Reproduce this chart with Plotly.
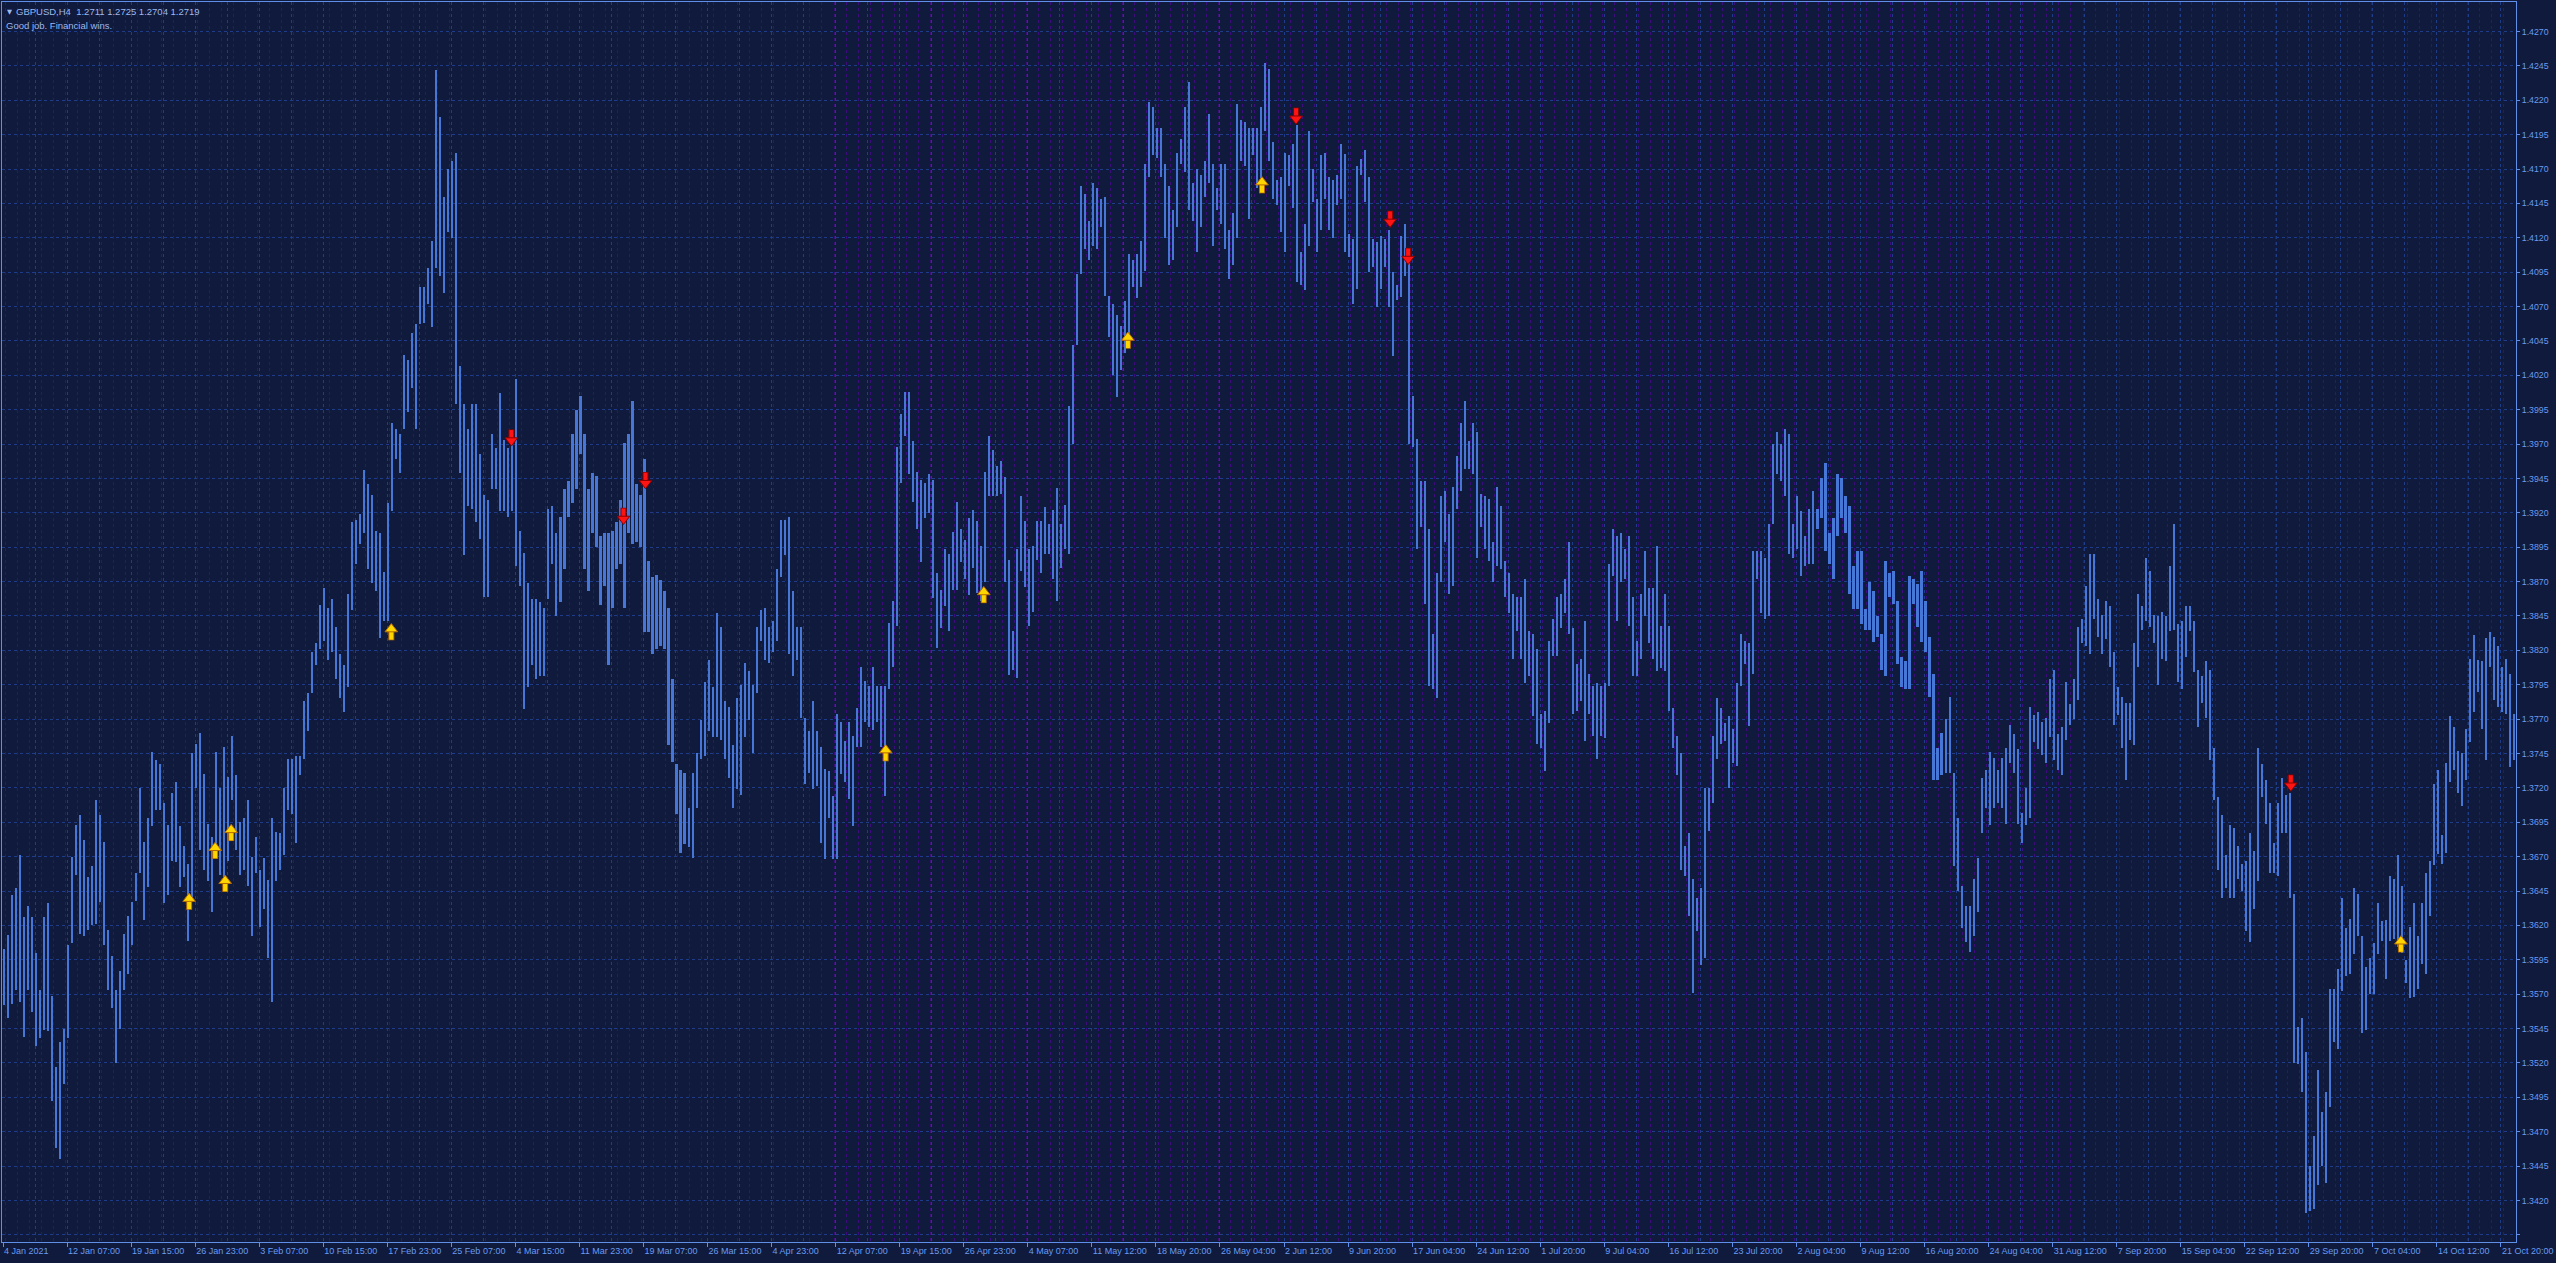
import plotly.graph_objects as go

# ---------------- data ----------------
# GBPUSD H4: high / low of each pair of consecutive H4 bars
BARS_PER_GROUP = 2
pair_high = [
    # 4 Jan - 12 Feb
    1.3603, 1.3613, 1.3642, 1.3647, 1.3671, 1.3626, 1.3634, 1.3626, 1.3600, 1.3573,
    1.3626, 1.3636, 1.3569, 1.3517, 1.3535, 1.3545, 1.3606, 1.3670, 1.3693, 1.3700,
    1.3682, 1.3655, 1.3663, 1.3711, 1.3700, 1.3681, 1.3617, 1.3598, 1.3573, 1.3587,
    1.3614, 1.3627, 1.3637, 1.3658, 1.3720, 1.3681, 1.3698, 1.3746, 1.3740, 1.3737,
    1.3709, 1.3693, 1.3716, 1.3724, 1.3692, 1.3678, 1.3665, 1.3745, 1.3752, 1.3760,
    1.3730, 1.3694, 1.3684, 1.3746, 1.3720, 1.3750, 1.3728, 1.3758, 1.3729, 1.3695,
    1.3698, 1.3711, 1.3670, 1.3684, 1.3660, 1.3669, 1.3653, 1.3698, 1.3688, 1.3687,
    1.3720, 1.3741, 1.3741, 1.3743,
    # Feb - Mar
    1.3743, 1.3783, 1.3789, 1.3819, 1.3825, 1.3853, 1.3865, 1.3851, 1.3857, 1.3837,
    1.3817, 1.3809, 1.3861, 1.3913, 1.3915, 1.3919, 1.3951, 1.3941, 1.3933, 1.3907,
    1.3905, 1.3877, 1.3927, 1.3985, 1.3981, 1.3977, 1.4035, 1.4031, 1.4051, 1.4057,
    1.4084, 1.4084, 1.4098, 1.4118, 1.4242, 1.4208, 1.4150, 1.4170, 1.4176, 1.4182,
    1.4027, 1.3999, 1.3981, 1.3999, 1.3999, 1.3963, 1.3933, 1.3929, 1.3977, 1.3967,
    1.4007, 1.3973, 1.3967, 1.3969, 1.4017, 1.3907, 1.3891, 1.3869, 1.3857, 1.3857,
    1.3855, 1.3851, 1.3923, 1.3925, 1.3905, 1.3917, 1.3937, 1.3943, 1.3977, 1.3995,
    1.4005, 1.3977, 1.3937, 1.3949, 1.3947, 1.3903, 1.3905, 1.3905, 1.3907, 1.3913,
    1.3929, 1.3971, 1.3977, 1.4001, 1.3941, 1.3933, 1.3959, 1.3885, 1.3873, 1.3875,
    1.3871, 1.3863, 1.3851, 1.3799, 1.3737, 1.3733, 1.3731, 1.3705, 1.3731, 1.3745,
    1.3769, 1.3797, 1.3813, 1.3793, 1.3847, 1.3837, 1.3783, 1.3779, 1.3751, 1.3785,
    1.3795, 1.3811, 1.3805, 1.3795, 1.3837, 1.3849, 1.3851, 1.3837, 1.3841, 1.3879,
    1.3915, 1.3915, 1.3917, 1.3863, 1.3837, 1.3837, 1.3771, 1.3761, 1.3783, 1.3761,
    # Apr - Jun
    1.3750, 1.3734, 1.3732, 1.3714, 1.3774, 1.3768, 1.3754, 1.3768, 1.3758, 1.3778,
    1.3808, 1.3798, 1.3794, 1.3808, 1.3794, 1.3794, 1.3794, 1.3840, 1.3856, 1.3968,
    1.3992, 1.4008, 1.4008, 1.3972, 1.3950, 1.3944, 1.3942, 1.3948, 1.3944, 1.3876,
    1.3864, 1.3894, 1.3890, 1.3906, 1.3928, 1.3908, 1.3900, 1.3916, 1.3922, 1.3914,
    1.3896, 1.3950, 1.3976, 1.3966, 1.3954, 1.3958, 1.3946, 1.3886, 1.3834, 1.3894,
    1.3932, 1.3914, 1.3894, 1.3896, 1.3914, 1.3914, 1.3924, 1.3912, 1.3922, 1.3938,
    1.3912, 1.3926, 1.3998, 1.4042, 1.4094, 1.4158, 1.4152, 1.4132, 1.4160, 1.4156,
    1.4148, 1.4150, 1.4078, 1.4072, 1.4064, 1.4056, 1.4074, 1.4108, 1.4104, 1.4108,
    1.4118, 1.4174, 1.4219, 1.4215, 1.4200, 1.4200, 1.4174, 1.4158, 1.4140, 1.4182,
    1.4192, 1.4215, 1.4233, 1.4160, 1.4170, 1.4166, 1.4176, 1.4210, 1.4174, 1.4156,
    1.4174, 1.4174, 1.4126, 1.4138, 1.4217, 1.4206, 1.4204, 1.4200, 1.4200, 1.4200,
    1.4215, 1.4247, 1.4243, 1.4190, 1.4162, 1.4164, 1.4182, 1.4180, 1.4188, 1.4202,
    1.4110, 1.4130, 1.4198, 1.4170, 1.4148, 1.4180, 1.4182, 1.4164, 1.4162, 1.4166,
    # Jun - Jul
    1.4188, 1.4181, 1.4123, 1.4119, 1.4172, 1.4177, 1.4184, 1.4164, 1.4119, 1.4117,
    1.4121, 1.4119, 1.4126, 1.4095, 1.4086, 1.4121, 1.4130, 1.4103, 1.4005, 1.3974,
    1.3943, 1.3943, 1.3908, 1.3832, 1.3876, 1.3932, 1.3936, 1.3919, 1.3939, 1.3961,
    1.3985, 1.4001, 1.3972, 1.3985, 1.3979, 1.3934, 1.3932, 1.3930, 1.3899, 1.3939,
    1.3925, 1.3885, 1.3876, 1.3861, 1.3859, 1.3859, 1.3872, 1.3834, 1.3832, 1.3821,
    1.3774, 1.3776, 1.3827, 1.3843, 1.3859, 1.3861, 1.3872, 1.3899, 1.3836, 1.3810,
    1.3814, 1.3841, 1.3803, 1.3794, 1.3796, 1.3794, 1.3796, 1.3883, 1.3908, 1.3903,
    1.3905, 1.3894, 1.3903, 1.3859, 1.3827, 1.3861, 1.3892, 1.3865, 1.3865, 1.3896,
    1.3838, 1.3861, 1.3838, 1.3778, 1.3758, 1.3745, 1.3678, 1.3687, 1.3654, 1.3640,
    1.3647, 1.3720, 1.3720, 1.3758, 1.3785, 1.3778, 1.3767, 1.3772, 1.3763, 1.3796,
    1.3832, 1.3827, 1.3825, 1.3892, 1.3892, 1.3892, 1.3887, 1.3912, 1.3970, 1.3979,
    1.3970, 1.3981, 1.3977, 1.3912, 1.3932, 1.3921, 1.3903, 1.3923, 1.3936, 1.3923,
    1.3945, 1.3956, 1.3905, 1.3916, 1.3948, 1.3945, 1.3932, 1.3925, 1.3881, 1.3892,
    # Aug - Sep
    1.3892, 1.3850, 1.3870, 1.3863, 1.3845, 1.3832, 1.3885, 1.3876, 1.3878, 1.3856,
    1.3815, 1.3812, 1.3874, 1.3872, 1.3868, 1.3878, 1.3856, 1.3830, 1.3803, 1.3749,
    1.3760, 1.3770, 1.3786, 1.3731, 1.3698, 1.3649, 1.3634, 1.3634, 1.3654, 1.3669,
    1.3727, 1.3733, 1.3746, 1.3742, 1.3733, 1.3742, 1.3749, 1.3766, 1.3759, 1.3748,
    1.3702, 1.3720, 1.3779, 1.3773, 1.3775, 1.3768, 1.3771, 1.3799, 1.3806, 1.3759,
    1.3764, 1.3797, 1.3781, 1.3799, 1.3837, 1.3843, 1.3867, 1.3890, 1.3890, 1.3857,
    1.3846, 1.3856, 1.3852, 1.3819, 1.3793, 1.3786, 1.3782, 1.3782, 1.3825, 1.3861,
    1.3852, 1.3887, 1.3878, 1.3846, 1.3845, 1.3848, 1.3845, 1.3881, 1.3912, 1.3839,
    1.3841, 1.3852, 1.3852, 1.3841, 1.3806, 1.3801, 1.3812, 1.3806, 1.3749, 1.3713,
    1.3700, 1.3671, 1.3693, 1.3691, 1.3678, 1.3665, 1.3667, 1.3687, 1.3674, 1.3749,
    1.3737, 1.3726, 1.3709, 1.3680, 1.3709, 1.3727, 1.3715, 1.3716, 1.3643, 1.3546,
    1.3553, 1.3528, 1.3445, 1.3467, 1.3515, 1.3484, 1.3499, 1.3574, 1.3574, 1.3588,
    1.3640, 1.3618, 1.3625, 1.3647, 1.3643, 1.3612, 1.3590, 1.3596, 1.3607, 1.3636,
    # Oct
    1.3623, 1.3624, 1.3656, 1.3654, 1.3671, 1.3649, 1.3595, 1.3619, 1.3636, 1.3612,
    1.3636, 1.3658, 1.3667, 1.3723, 1.3733, 1.3686, 1.3738, 1.3772, 1.3764, 1.3747,
    1.3745, 1.3763, 1.3814, 1.3831, 1.3813, 1.3812, 1.3829, 1.3833, 1.3830, 1.3823,
    1.3808, 1.3814, 1.3803, 1.3774,
]
pair_low = [
    # 4 Jan - 12 Feb
    1.3562, 1.3553, 1.3563, 1.3573, 1.3564, 1.3539, 1.3573, 1.3557, 1.3532, 1.3538,
    1.3544, 1.3543, 1.3492, 1.3458, 1.3450, 1.3505, 1.3538, 1.3607, 1.3657, 1.3614,
    1.3612, 1.3617, 1.3620, 1.3621, 1.3637, 1.3606, 1.3573, 1.3560, 1.3520, 1.3545,
    1.3573, 1.3585, 1.3606, 1.3638, 1.3658, 1.3624, 1.3648, 1.3692, 1.3704, 1.3704,
    1.3636, 1.3642, 1.3667, 1.3666, 1.3648, 1.3655, 1.3609, 1.3638, 1.3720, 1.3675,
    1.3660, 1.3652, 1.3630, 1.3675, 1.3657, 1.3648, 1.3667, 1.3711, 1.3675, 1.3657,
    1.3660, 1.3649, 1.3612, 1.3658, 1.3619, 1.3632, 1.3596, 1.3564, 1.3652, 1.3660,
    1.3671, 1.3704, 1.3701, 1.3680,
    # Feb - Mar
    1.3729, 1.3741, 1.3761, 1.3789, 1.3809, 1.3821, 1.3827, 1.3813, 1.3819, 1.3799,
    1.3785, 1.3775, 1.3793, 1.3849, 1.3883, 1.3897, 1.3905, 1.3879, 1.3869, 1.3863,
    1.3829, 1.3841, 1.3841, 1.3921, 1.3959, 1.3949, 1.3981, 1.3993, 1.4011, 1.3981,
    1.4057, 1.4058, 1.4072, 1.4055, 1.4098, 1.4092, 1.4080, 1.4124, 1.4120, 1.3999,
    1.3949, 1.3889, 1.3925, 1.3923, 1.3913, 1.3901, 1.3859, 1.3859, 1.3937, 1.3937,
    1.3921, 1.3921, 1.3917, 1.3921, 1.3881, 1.3867, 1.3777, 1.3793, 1.3809, 1.3799,
    1.3801, 1.3801, 1.3857, 1.3883, 1.3845, 1.3855, 1.3879, 1.3917, 1.3927, 1.3937,
    1.3963, 1.3879, 1.3863, 1.3905, 1.3895, 1.3853, 1.3867, 1.3809, 1.3851, 1.3879,
    1.3883, 1.3851, 1.3905, 1.3897, 1.3899, 1.3895, 1.3833, 1.3833, 1.3817, 1.3821,
    1.3823, 1.3821, 1.3751, 1.3739, 1.3701, 1.3673, 1.3679, 1.3677, 1.3669, 1.3705,
    1.3741, 1.3743, 1.3761, 1.3757, 1.3757, 1.3755, 1.3741, 1.3727, 1.3705, 1.3719,
    1.3715, 1.3757, 1.3769, 1.3745, 1.3789, 1.3827, 1.3813, 1.3811, 1.3819, 1.3827,
    1.3873, 1.3889, 1.3817, 1.3801, 1.3813, 1.3771, 1.3723, 1.3731, 1.3719, 1.3721,
    # Apr - Jun
    1.3680, 1.3668, 1.3698, 1.3668, 1.3668, 1.3730, 1.3724, 1.3712, 1.3692, 1.3750,
    1.3750, 1.3768, 1.3764, 1.3762, 1.3768, 1.3750, 1.3714, 1.3792, 1.3808, 1.3838,
    1.3942, 1.3976, 1.3948, 1.3928, 1.3908, 1.3884, 1.3916, 1.3920, 1.3858, 1.3822,
    1.3836, 1.3852, 1.3834, 1.3864, 1.3864, 1.3884, 1.3872, 1.3860, 1.3880, 1.3862,
    1.3856, 1.3870, 1.3932, 1.3932, 1.3932, 1.3934, 1.3870, 1.3802, 1.3806, 1.3800,
    1.3878, 1.3866, 1.3838, 1.3848, 1.3886, 1.3876, 1.3890, 1.3890, 1.3872, 1.3856,
    1.3880, 1.3894, 1.3890, 1.3970, 1.4042, 1.4094, 1.4112, 1.4104, 1.4114, 1.4112,
    1.4128, 1.4078, 1.4048, 1.4020, 1.4004, 1.4024, 1.4036, 1.4046, 1.4084, 1.4076,
    1.4084, 1.4096, 1.4164, 1.4180, 1.4178, 1.4164, 1.4120, 1.4100, 1.4104, 1.4128,
    1.4174, 1.4168, 1.4140, 1.4132, 1.4110, 1.4128, 1.4150, 1.4160, 1.4114, 1.4140,
    1.4130, 1.4112, 1.4090, 1.4100, 1.4120, 1.4176, 1.4172, 1.4134, 1.4180, 1.4156,
    1.4160, 1.4198, 1.4176, 1.4148, 1.4144, 1.4124, 1.4110, 1.4158, 1.4142, 1.4088,
    1.4086, 1.4082, 1.4114, 1.4146, 1.4110, 1.4126, 1.4148, 1.4126, 1.4120, 1.4144,
    # Jun - Jul
    1.4148, 1.4110, 1.4106, 1.4072, 1.4083, 1.4166, 1.4146, 1.4095, 1.4099, 1.4070,
    1.4083, 1.4099, 1.4070, 1.4034, 1.4075, 1.4077, 1.4092, 1.3970, 1.3968, 1.3894,
    1.3910, 1.3854, 1.3794, 1.3792, 1.3785, 1.3870, 1.3899, 1.3861, 1.3867, 1.3923,
    1.3936, 1.3952, 1.3952, 1.3948, 1.3887, 1.3910, 1.3894, 1.3885, 1.3870, 1.3881,
    1.3879, 1.3859, 1.3847, 1.3814, 1.3834, 1.3814, 1.3796, 1.3801, 1.3772, 1.3752,
    1.3749, 1.3732, 1.3767, 1.3816, 1.3816, 1.3836, 1.3847, 1.3832, 1.3774, 1.3776,
    1.3783, 1.3754, 1.3774, 1.3758, 1.3741, 1.3758, 1.3756, 1.3794, 1.3874, 1.3841,
    1.3870, 1.3872, 1.3838, 1.3801, 1.3801, 1.3814, 1.3845, 1.3825, 1.3814, 1.3805,
    1.3807, 1.3805, 1.3776, 1.3749, 1.3729, 1.3660, 1.3656, 1.3627, 1.3571, 1.3616,
    1.3591, 1.3596, 1.3689, 1.3709, 1.3741, 1.3752, 1.3754, 1.3720, 1.3738, 1.3736,
    1.3794, 1.3810, 1.3765, 1.3803, 1.3872, 1.3847, 1.3843, 1.3845, 1.3912, 1.3948,
    1.3943, 1.3932, 1.3890, 1.3887, 1.3894, 1.3874, 1.3881, 1.3883, 1.3883, 1.3908,
    1.3916, 1.3892, 1.3883, 1.3872, 1.3903, 1.3916, 1.3905, 1.3861, 1.3850, 1.3850,
    # Aug - Sep
    1.3839, 1.3835, 1.3835, 1.3826, 1.3830, 1.3806, 1.3801, 1.3859, 1.3854, 1.3810,
    1.3793, 1.3792, 1.3792, 1.3854, 1.3837, 1.3826, 1.3819, 1.3786, 1.3726, 1.3726,
    1.3729, 1.3731, 1.3731, 1.3663, 1.3645, 1.3618, 1.3608, 1.3601, 1.3612, 1.3630,
    1.3687, 1.3705, 1.3693, 1.3705, 1.3709, 1.3705, 1.3694, 1.3738, 1.3731, 1.3694,
    1.3680, 1.3693, 1.3698, 1.3753, 1.3748, 1.3744, 1.3738, 1.3757, 1.3740, 1.3733,
    1.3729, 1.3755, 1.3766, 1.3770, 1.3784, 1.3825, 1.3823, 1.3817, 1.3843, 1.3830,
    1.3817, 1.3828, 1.3808, 1.3766, 1.3773, 1.3749, 1.3726, 1.3755, 1.3751, 1.3808,
    1.3835, 1.3841, 1.3837, 1.3825, 1.3795, 1.3814, 1.3812, 1.3834, 1.3835, 1.3797,
    1.3792, 1.3815, 1.3834, 1.3804, 1.3764, 1.3782, 1.3771, 1.3740, 1.3711, 1.3660,
    1.3640, 1.3647, 1.3640, 1.3640, 1.3654, 1.3645, 1.3616, 1.3608, 1.3632, 1.3652,
    1.3713, 1.3694, 1.3658, 1.3658, 1.3656, 1.3687, 1.3687, 1.3640, 1.3520, 1.3519,
    1.3499, 1.3411, 1.3412, 1.3414, 1.3431, 1.3445, 1.3433, 1.3488, 1.3535, 1.3530,
    1.3572, 1.3583, 1.3585, 1.3599, 1.3612, 1.3542, 1.3544, 1.3570, 1.3570, 1.3599,
    # Oct
    1.3609, 1.3581, 1.3609, 1.3610, 1.3604, 1.3600, 1.3578, 1.3567, 1.3568, 1.3574,
    1.3592, 1.3585, 1.3627, 1.3664, 1.3672, 1.3665, 1.3673, 1.3724, 1.3733, 1.3716,
    1.3707, 1.3726, 1.3753, 1.3775, 1.3790, 1.3763, 1.3740, 1.3808, 1.3784, 1.3779,
    1.3775, 1.3774, 1.3735, 1.3740,
]

# signal arrows: bar index and price level of the arrow
buy_bar = [93, 106, 111, 114, 194, 441, 490, 562, 629, 1198]
buy_price = [1.3638, 1.3675, 1.3651, 1.3688, 1.3834, 1.3746, 1.3861, 1.4046, 1.4159, 1.3607]
sell_bar = [254, 310, 321, 646, 693, 702, 1143]
sell_price = [1.3974, 1.3917, 1.3943, 1.4208, 1.4133, 1.4106, 1.3723]

time_labels = [
    "4 Jan 2021", "12 Jan 07:00", "19 Jan 15:00", "26 Jan 23:00", "3 Feb 07:00",
    "10 Feb 15:00", "17 Feb 23:00", "25 Feb 07:00", "4 Mar 15:00", "11 Mar 23:00",
    "19 Mar 07:00", "26 Mar 15:00", "4 Apr 23:00", "12 Apr 07:00", "19 Apr 15:00",
    "26 Apr 23:00", "4 May 07:00", "11 May 12:00", "18 May 20:00", "26 May 04:00",
    "2 Jun 12:00", "9 Jun 20:00", "17 Jun 04:00", "24 Jun 12:00", "1 Jul 20:00",
    "9 Jul 04:00", "16 Jul 12:00", "23 Jul 20:00", "2 Aug 04:00", "9 Aug 12:00",
    "16 Aug 20:00", "24 Aug 04:00", "31 Aug 12:00", "7 Sep 20:00", "15 Sep 04:00",
    "22 Sep 12:00", "29 Sep 20:00", "7 Oct 04:00", "14 Oct 12:00", "21 Oct 20:00",
]
BARS_PER_LABEL = 32
price_ticks = [1.3395 + 0.0025 * k for k in range(36)]

header_line1 = "GBPUSD,H4\u00a0\u00a01.2711 1.2725 1.2704 1.2719"
header_line2 = "Good job. Financial wins."

# ---------------- styling ----------------
BG = "#0f1a3c"
GRID = "#1f3c88"
SEP = "#3e0c7c"
BAR = "#4676d6"
AXIS = "#5f8fe8"
TXT = "#6a9cf0"
HEAD = "#9db8ee"
FONT = "Liberation Sans, Arial, sans-serif"

W, H = 2556, 1263
ML, MR, MT, MB = 2, 40, 2, 21
N_BARS = 1256
x_range = [-0.5, N_BARS - 0.5]
y_range = [1.338977, 1.429145]
plot_h = H - MT - MB
ppx = (y_range[1] - y_range[0]) / plot_h  # price per pixel

n = min(len(pair_high), len(pair_low))
x_centers = [BARS_PER_GROUP * g + (BARS_PER_GROUP - 1) / 2 for g in range(n)]
spans = [pair_high[i] - pair_low[i] for i in range(n)]

fig = go.Figure()
fig.add_trace(go.Bar(
    x=x_centers, y=spans, base=pair_low[:n], width=1.05,
    marker=dict(color=BAR, line=dict(width=0)), hoverinfo="skip",
))


def arrow_traces(bars, prices, up, fill, edge):
    sgn = 1 if up else -1
    head_y = [p + sgn * 2.0 * ppx for p in prices]
    stem_y = [p - sgn * 3.6 * ppx for p in prices]
    return [
        go.Scatter(x=bars, y=stem_y, mode="markers", xaxis="x2", hoverinfo="skip",
                   marker=dict(symbol="line-ns", size=8, line=dict(color=edge, width=6))),
        go.Scatter(x=bars, y=stem_y, mode="markers", xaxis="x2", hoverinfo="skip",
                   marker=dict(symbol="line-ns", size=7, line=dict(color=fill, width=4))),
        go.Scatter(x=bars, y=head_y, mode="markers", xaxis="x2", hoverinfo="skip",
                   marker=dict(symbol="triangle-up" if up else "triangle-down", size=11,
                               color=fill, line=dict(color=edge, width=1))),
    ]


for t in arrow_traces(buy_bar, buy_price, True, "#ffd500", "#b66a00"):
    fig.add_trace(t)
for t in arrow_traces(sell_bar, sell_price, False, "#ff1414", "#8c0000"):
    fig.add_trace(t)

fig.update_layout(
    width=W, height=H,
    margin=dict(l=ML, r=MR, t=MT, b=MB, pad=0),
    paper_bgcolor=BG, plot_bgcolor=BG,
    showlegend=False, bargap=0,
    xaxis=dict(
        range=x_range, tickmode="array",
        tickvals=[BARS_PER_LABEL * i for i in range(len(time_labels))],
        ticktext=time_labels, tickangle=0,
        ticks="outside", ticklen=4, tickcolor=AXIS, tickwidth=1,
        ticklabelposition="outside right", ticklabeloverflow="allow",
        tickfont=dict(family=FONT, size=9, color=TXT),
        showline=True, linecolor=AXIS, linewidth=1, mirror=True,
        showgrid=True, gridcolor=GRID, gridwidth=1, griddash="3px,3px",
        minor=dict(tickmode="linear", tick0=0, dtick=BARS_PER_LABEL / 2, showgrid=True,
                   gridcolor=GRID, gridwidth=1, griddash="3px,3px", ticks=""),
        zeroline=False, fixedrange=True, automargin=False,
    ),
    xaxis2=dict(
        overlaying="x", range=x_range, tickmode="linear", tick0=1.17, dtick=6,
        showgrid=True, gridcolor=SEP, gridwidth=1, griddash="3px,3px",
        showticklabels=False, ticks="", showline=False, zeroline=False, fixedrange=True,
    ),
    yaxis=dict(
        range=y_range, side="right", tickmode="array",
        tickvals=price_ticks,
        ticktext=["" if i == 0 else f"{v:.4f}" for i, v in enumerate(price_ticks)],
        ticks="outside", ticklen=3, tickcolor=AXIS, tickwidth=1,
        tickfont=dict(family=FONT, size=8.8, color=TXT),
        showline=True, linecolor=AXIS, linewidth=1, mirror=True,
        showgrid=True, gridcolor=GRID, gridwidth=1, griddash="3px,3px",
        zeroline=False, fixedrange=True, automargin=False,
    ),
    annotations=[
        dict(xref="paper", yref="paper", x=0, y=1, xanchor="left", yanchor="top",
             xshift=3, yshift=-4, text="\u25bc", showarrow=False,
             font=dict(family="DejaVu Sans", size=6.5, color=HEAD)),
        dict(xref="paper", yref="paper", x=0, y=1, xanchor="left", yanchor="top",
             xshift=12, yshift=-2, text=header_line1, showarrow=False,
             font=dict(family=FONT, size=9.5, color=HEAD)),
        dict(xref="paper", yref="paper", x=0, y=1, xanchor="left", yanchor="top",
             xshift=2, yshift=-16, text=header_line2, showarrow=False,
             font=dict(family=FONT, size=9.5, color=HEAD)),
    ],
)

fig.write_html(
    "out.html",
    config={"displayModeBar": False},
    post_script="document.body.style.margin='0px';document.body.style.overflow='hidden';"
                "document.documentElement.style.background='" + BG + "';",
)
